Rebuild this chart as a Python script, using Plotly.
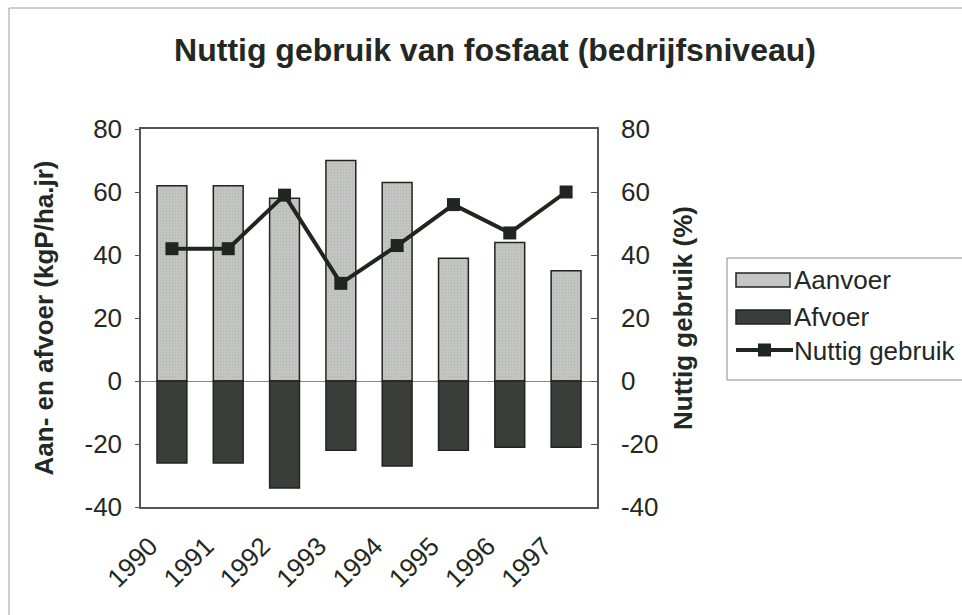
import plotly.graph_objects as go

years = ["1990", "1991", "1992", "1993", "1994", "1995", "1996", "1997"]
aanvoer = [62, 62, 58, 70, 63, 39, 44, 35]
afvoer = [-26, -26, -34, -22, -27, -22, -21, -21]
nuttig = [42, 42, 59, 31, 43, 56, 47, 60]

title_text = "Nuttig gebruik van fosfaat (bedrijfsniveau)"
y1_title = "Aan- en afvoer (kgP/ha.jr)"
y2_title = "Nuttig gebruik (%)"
tick_vals = [-40, -20, 0, 20, 40, 60, 80]
tick_text = ["-40", "-20", "0", "20", "40", "60", "80"]

FONT = "Liberation Sans, Arial, sans-serif"
INK = "#232823"
LIGHT = "#c5c6c5"
DARK = "#3a3e3a"
EDGE = "#1f251f"
FS = 26

# plot area in pixels
L, R, T, B = 141, 597, 129, 507
W, H = 962, 615
PW, PH = R - L, B - T


def px(x):
    return (x - L) / PW


def py(y):
    return (B - y) / PH


fig = go.Figure()
fig.add_trace(go.Bar(x=years, y=aanvoer, name="Aanvoer", width=0.53,
                     marker=dict(color=LIGHT, line=dict(color=EDGE, width=1.5),
                                 pattern=dict(shape=".", fgcolor="#a8aaa8", size=3, solidity=0.3)),
                     showlegend=False))
fig.add_trace(go.Bar(x=years, y=afvoer, name="Afvoer", width=0.53,
                     marker=dict(color=DARK, line=dict(color=EDGE, width=1.5)),
                     showlegend=False))
fig.add_trace(go.Scatter(x=years, y=nuttig, name="Nuttig gebruik", yaxis="y2",
                         mode="lines+markers",
                         line=dict(color=EDGE, width=4),
                         marker=dict(symbol="square", size=13, color=EDGE),
                         showlegend=False))

shapes = [
    # outer frame (only left and top visible)
    dict(type="rect", xref="paper", yref="paper", x0=px(9), x1=px(1100), y0=py(800), y1=py(8),
         line=dict(color="#9a9a9a", width=1), layer="below"),
    # legend box
    dict(type="rect", xref="paper", yref="paper", x0=px(727), x1=px(1100), y0=py(380), y1=py(258),
         line=dict(color="#8a8a8a", width=1)),
    # swatches
    dict(type="rect", xref="paper", yref="paper", x0=px(736), x1=px(790), y0=py(287), y1=py(273),
         fillcolor=LIGHT, line=dict(color=EDGE, width=1.5)),
    dict(type="rect", xref="paper", yref="paper", x0=px(736), x1=px(790), y0=py(324), y1=py(310),
         fillcolor=DARK, line=dict(color=EDGE, width=1.5)),
    dict(type="line", xref="paper", yref="paper", x0=px(736), x1=px(793), y0=py(350), y1=py(350),
         line=dict(color=EDGE, width=4)),
    dict(type="rect", xref="paper", yref="paper", x0=px(758), x1=px(771), y0=py(356.5), y1=py(343.5),
         fillcolor=EDGE, line=dict(color=EDGE, width=0)),
]

annotations = []
for lbl, yy in [("Aanvoer", 280), ("Afvoer", 317), ("Nuttig gebruik", 351)]:
    annotations.append(dict(text=lbl, xref="paper", yref="paper", x=px(792), y=py(yy),
                            xanchor="left", yanchor="middle", showarrow=False,
                            font=dict(family=FONT, size=FS, color=INK)))

fig.update_layout(
    width=W, height=H,
    margin=dict(l=L, r=W - R, t=T, b=H - B),
    paper_bgcolor="white", plot_bgcolor="white",
    barmode="relative",
    title=dict(text="<b>" + title_text + "</b>", x=495 / W, xref="container", xanchor="center",
               y=1 - 50 / H, yref="container", yanchor="middle",
               font=dict(family=FONT, size=32, color=INK)),
    font=dict(family=FONT, size=FS, color=INK),
    xaxis=dict(type="category", tickangle=-45, showline=True, linecolor="#555", linewidth=1.5,
               mirror=True, ticks="", tickfont=dict(size=FS, color=INK),
               ticklabelstandoff=12, ticklabelshift=-22),
    yaxis=dict(range=[-40, 80], tickvals=tick_vals, ticktext=tick_text, showgrid=False,
               zeroline=True, zerolinecolor="#8a8a8a", zerolinewidth=1, showline=True,
               linecolor="#555", linewidth=1.5, ticks="outside", ticklen=4, tickcolor="#555",
               tickfont=dict(size=FS, color=INK), ticklabelstandoff=8,
               title=dict(text="<b>" + y1_title + "</b>", standoff=23,
                          font=dict(family=FONT, size=FS, color=INK))),
    yaxis2=dict(range=[-40, 80], tickvals=tick_vals, ticktext=tick_text, overlaying="y",
                side="right", showgrid=False, zeroline=False, showline=True, linecolor="#555",
                linewidth=1.5, ticks="inside", ticklen=6, tickcolor="#555",
                tickfont=dict(size=FS, color=INK), ticklabelstandoff=17,
                title=dict(text="<b>" + y2_title + "</b>", standoff=16,
                           font=dict(family=FONT, size=FS, color=INK))),
    shapes=shapes, annotations=annotations,
)

fig.write_html("out.html", config={"displayModeBar": False},
               post_script="document.body.style.margin='0';")
